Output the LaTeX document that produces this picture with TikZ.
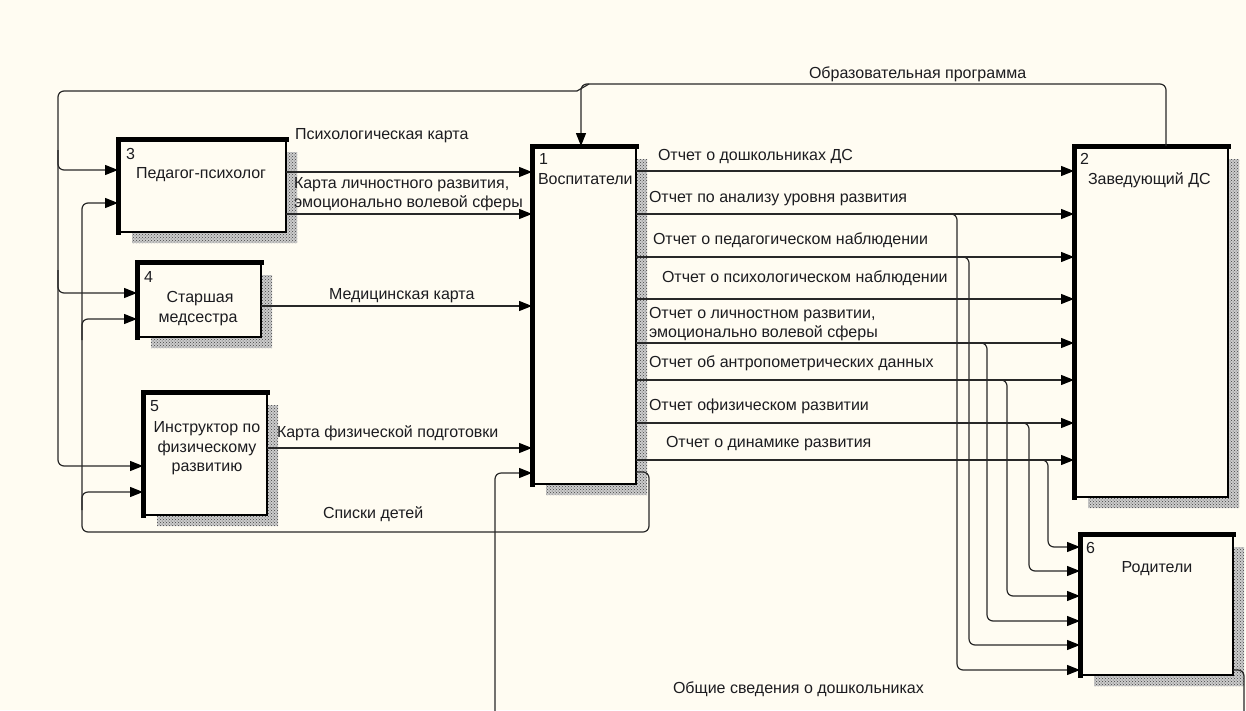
\documentclass[tikz,border=0pt]{standalone}
\usepackage{fontspec}
\setmainfont{Liberation Sans}
\usetikzlibrary{arrows.meta,calc,patterns}
\definecolor{bg}{RGB}{255,252,242}
\definecolor{ink}{RGB}{28,28,32}
\definecolor{wire}{RGB}{40,40,40}
\tikzset{
  every node/.style={font=\fontsize{16pt}{19pt}\selectfont, text=ink, inner sep=0pt, outer sep=0pt},
  lbl/.style={anchor=west, text height=10.5pt, text depth=0pt},
  ctr/.style={anchor=center, text height=10.5pt, text depth=0pt},
  geo/.style={anchor=north west, draw=none},
  wire/.style={draw=wire, line width=1.2pt, rounded corners=6pt},
  arr/.style={wire, -{Triangle[length=13pt,width=10pt,fill=black,color=black]}},
  shadowfill/.style={fill=gray!40, postaction={pattern=crosshatch dots, pattern color=black!75}},
}
\newcommand\idefshadow[1]{%
  \path[shadowfill] ($(#1.north east)+(0,13)$) -- ++(11,0) |- ($(#1.south west)+(14,11)$) -- ++(0,-11) -- (#1.south east) -- cycle;}
\newcommand\idefbox[1]{%
  \fill[bg] (#1.north west) rectangle (#1.south east);
  \draw[line width=2.5pt] (#1.north west) rectangle (#1.south east);
  \draw[line width=5pt, line cap=rect] (#1.south west) -- (#1.north west) -- (#1.north east);}
\begin{document}
\begin{tikzpicture}[x=1pt,y=-1pt]
\useasboundingbox (0,0) rectangle (1246,710);
\fill[bg] (0,0) rectangle (1246,710);
\clip (0,0) rectangle (1246,710);

% box geometry
\node[geo, minimum width=104pt, minimum height=338pt] (b1) at (532,146) {};
\node[geo, minimum width=154pt, minimum height=351pt] (b2) at (1074,146) {};
\node[geo, minimum width=168pt, minimum height=93pt] (b3) at (118,139) {};
\node[geo, minimum width=124pt, minimum height=75pt] (b4) at (137,262) {};
\node[geo, minimum width=124pt, minimum height=123pt] (b5) at (143,392) {};
\node[geo, minimum width=153pt, minimum height=141pt] (b6) at (1080,534) {};

\foreach \b in {b1,b2,b3,b4,b5,b6} {\idefshadow{\b}}
\foreach \b in {b1,b2,b3,b4,b5,b6} {\idefbox{\b}}

% Образовательная программа
\draw[arr] (1166,0 |- b2.north) -- (1166,84) -- (581,84) -- (581,0 |- b1.north);
\draw[wire, sharp corners] (589,84) -- (577,91);
\draw[arr] (577,91) -- (58,91) -- (58,466) -- (b5.west |- 0,466);
\draw[arr] (58,150) -- (58,170) -- (b3.west |- 0,170);
\draw[arr] (58,270) -- (58,293) -- (b4.west |- 0,293);

% Списки детей
\draw[arr] (b1.east |- 0,472) -- (649,472) -- (649,532) -- (82,532) -- (82,203) -- (b3.west |- 0,203);
\draw[arr] (82,340) -- (82,319) -- (b4.west |- 0,319);
\draw[arr] (82,510) -- (82,492) -- (b5.west |- 0,492);

% Общие сведения о дошкольниках
\draw[arr] (b6.east |- 0,670) -- (1244,670) -- (1244,740) -- (495,740) -- (495,473) -- (b1.west |- 0,473);

% inputs to b1
\draw[arr] (b3.east |- 0,172) -- (b1.west |- 0,172);
\draw[arr] (b3.east |- 0,214) -- (b1.west |- 0,214);
\draw[arr] (b4.east |- 0,306) -- (b1.west |- 0,306);
\draw[arr] (b5.east |- 0,448) -- (b1.west |- 0,448);

% outputs b1 -> b2
\foreach \y in {171,214,257,299,343,380,423,460}
  \draw[arr] (b1.east |- 0,\y) -- (b2.west |- 0,\y);
% branches -> b6
\foreach \y/\x/\t in {214/957/670, 257/969/645, 343/987/621, 380/1007/596, 423/1029/571, 460/1048/547}
  \draw[arr] (\x-14,\y) -- (\x,\y) -- (\x,\t) -- (b6.west |- 0,\t);

% box texts
\node[lbl] (n1) at (539,159) {1};
\node[lbl] (m1) at (538,179) {Воспитатели};
\node[lbl] (n2) at (1080,159) {2};
\node[lbl] (m2) at (1088,179) {Заведующий ДС};
\node[lbl] (n3) at (126,154) {3};
\node[lbl] (m3) at (136,173) {Педагог-психолог};
\node[lbl] (n4) at (144,277) {4};
\node[ctr] (m4a) at (200,297) {Старшая};
\node[ctr] (m4b) at (198,317) {медсестра};
\node[lbl] (n5) at (150,406) {5};
\node[ctr] (m5a) at (207,427) {Инструктор по};
\node[ctr] (m5b) at (207,447) {физическому};
\node[ctr] (m5c) at (207,466) {развитию};
\node[lbl] (n6) at (1086,548) {6};
\node[ctr] (m6) at (1157,567) {Родители};

% arrow labels
\node[lbl] (t1) at (295,134) {Психологическая карта};
\node[lbl] (t2a) at (294,183) {Карта личностного развития,};
\node[lbl] (t2b) at (294,202) {эмоционально волевой сферы};
\node[lbl] (t3) at (329,294) {Медицинская карта};
\node[lbl] (t4) at (277,432) {Карта физической подготовки};
\node[lbl] (t5) at (323,513) {Списки детей};
\node[lbl] (t6) at (809,73) {Образовательная программа};
\node[lbl] (t7) at (673,688) {Общие сведения о дошкольниках};
\node[lbl] (r1) at (658,155) {Отчет о дошкольниках ДС};
\node[lbl] (r2) at (649,197) {Отчет по анализу уровня развития};
\node[lbl] (r3) at (653,239) {Отчет о педагогическом наблюдении};
\node[lbl] (r4) at (662,277) {Отчет о психологическом наблюдении};
\node[lbl] (r5a) at (649,313) {Отчет о личностном развитии,};
\node[lbl] (r5b) at (649,332) {эмоционально волевой сферы};
\node[lbl] (r6) at (649,362) {Отчет об антропометрических данных};
\node[lbl] (r7) at (649,405) {Отчет офизическом развитии};
\node[lbl] (r8) at (666,442) {Отчет о динамике развития};
\end{tikzpicture}
\end{document}
